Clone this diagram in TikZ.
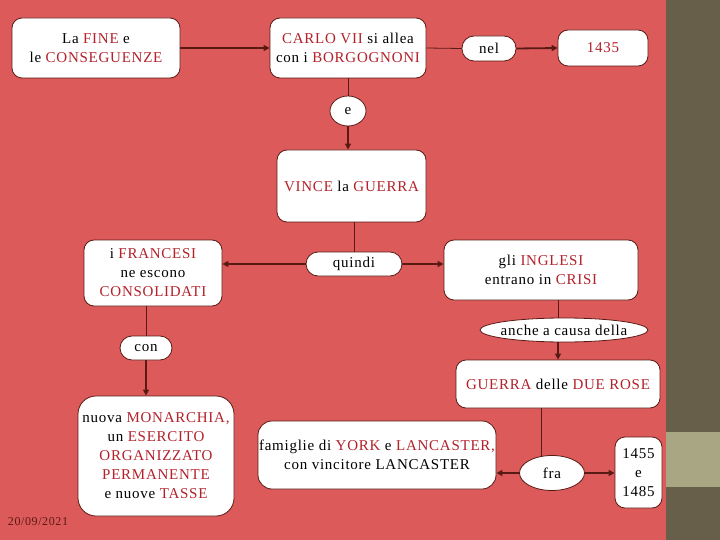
\documentclass[tikz,border=0pt]{standalone}
\usepackage{fontspec}
\setmainfont{Liberation Serif}[LetterSpace=5]
\usetikzlibrary{arrows.meta,shapes.geometric,calc}
\definecolor{bgred}{HTML}{DD5A5B}
\definecolor{olive}{HTML}{675F4A}
\definecolor{lolive}{HTML}{A9A783}
\definecolor{txtred}{HTML}{B3212B}
\definecolor{linec}{HTML}{5A1A14}
\newcommand{\rd}[1]{\textcolor{txtred}{#1}}
\tikzset{
  box/.style={draw=linec, fill=white, line width=0.8pt, rounded corners=10pt, align=center, inner sep=0pt, font=\fontsize{15}{19}\selectfont},
  pill/.style={box, rounded corners=12pt},
  oval/.style={draw=linec, fill=white, line width=0.8pt, ellipse, inner sep=0pt, font=\fontsize{15}{19}\selectfont},
  arr/.style={draw=linec, line width=1.8pt, -{Triangle[length=6pt,width=6pt]}},
  ln/.style={draw=linec, line width=0.8pt},
}
\begin{document}
\begin{tikzpicture}[x=1pt,y=-1pt]
\useasboundingbox (0,0) rectangle (720,540);
\fill[bgred] (0,0) rectangle (666,540);
\fill[olive] (666,0) rectangle (720,540);
\fill[lolive] (666,432) rectangle (720,487);

\node[box, minimum width=168pt, minimum height=60pt] (b1) at (96,48) {La \rd{FINE} e\\le \rd{CONSEGUENZE}};
\node[box, minimum width=156pt, minimum height=60pt] (b2) at (348,48) {\rd{CARLO VII} si allea\\con i \rd{BORGOGNONI}};
\node[pill, minimum width=54pt, minimum height=25pt] (nel) at (489,48.5) {nel};
\node[box, minimum width=90pt, minimum height=36pt] (y1435) at (603,48) {\rd{1435}};
\node[oval, minimum width=36pt, minimum height=30pt] (e) at (348,111) {e};
\node[box, minimum width=149pt, minimum height=72pt] (vince) at (351.5,186) {\rd{VINCE} la \rd{GUERRA}};
\node[pill, minimum width=96pt, minimum height=24pt] (quindi) at (354,264) {quindi};
\node[box, minimum width=138pt, minimum height=66pt] (fr) at (153,273) {i \rd{FRANCESI}\\ne escono\\\rd{CONSOLIDATI}};
\node[box, minimum width=194pt, minimum height=60pt] (ing) at (541,270) {gli \rd{INGLESI}\\entrano in \rd{CRISI}};
\node[oval, minimum width=168pt, minimum height=24pt] (anche) at (564,330) {\makebox[0pt]{anche a causa della}};
\node[box, minimum width=204pt, minimum height=48pt] (guerra) at (558,384) {\rd{GUERRA} delle \rd{DUE ROSE}};
\node[pill, minimum width=52pt, minimum height=24pt] (con) at (146,348) {con};
\node[box, rounded corners=18pt, minimum width=156pt, minimum height=120pt] (mon) at (156,456) {nuova \rd{MONARCHIA,}\\un \rd{ESERCITO}\\\rd{ORGANIZZATO}\\\rd{PERMANENTE}\\e nuove \rd{TASSE}};
\node[box, rounded corners=14pt, minimum width=238pt, minimum height=68pt] (fam) at (377,455) {famiglie di \rd{YORK} e \rd{LANCASTER,}\\con vincitore LANCASTER};
\node[oval, minimum width=65pt, minimum height=35pt] (fra) at (552,473) {\makebox[0pt]{fra}};
\node[box, minimum width=47pt, minimum height=71pt] (dates) at (638.5,472.5) {1455\\e\\1485};
\node[text=linec, font=\fontsize{12}{14}\selectfont] (date) at (38,522) {20/09/2021};

\draw[arr] (b1.east) -- (b2.west);
\draw[ln] (b2.east) -- (nel.west);
\draw[arr] (nel.east) -- (y1435.west);
\draw[ln] (b2.south) -- (e.north);
\draw[arr] (e.south) -- (e.south |- vince.north);
\draw[ln] (quindi.north |- vince.south) -- (quindi.north);
\draw[arr] (quindi.west) -- (quindi.west -| fr.east);
\draw[arr] (quindi.east) -- (quindi.east -| ing.west);
\draw[ln] (ing.south -| guerra.north) -- (anche.north -| guerra.north);
\draw[arr] (anche.south -| guerra.north) -- (guerra.north);
\draw[ln] (con.north |- fr.south) -- (con.north);
\draw[arr] (con.south) -- (con.south |- mon.north);
\draw[ln] ($(guerra.south)+(-17,0)$) -- ($(fra.north)+(-11,1)$);
\draw[arr] (fra.west) -- (fra.west -| fam.east);
\draw[arr] (fra.east) -- (fra.east -| dates.west);
\end{tikzpicture}
\end{document}
